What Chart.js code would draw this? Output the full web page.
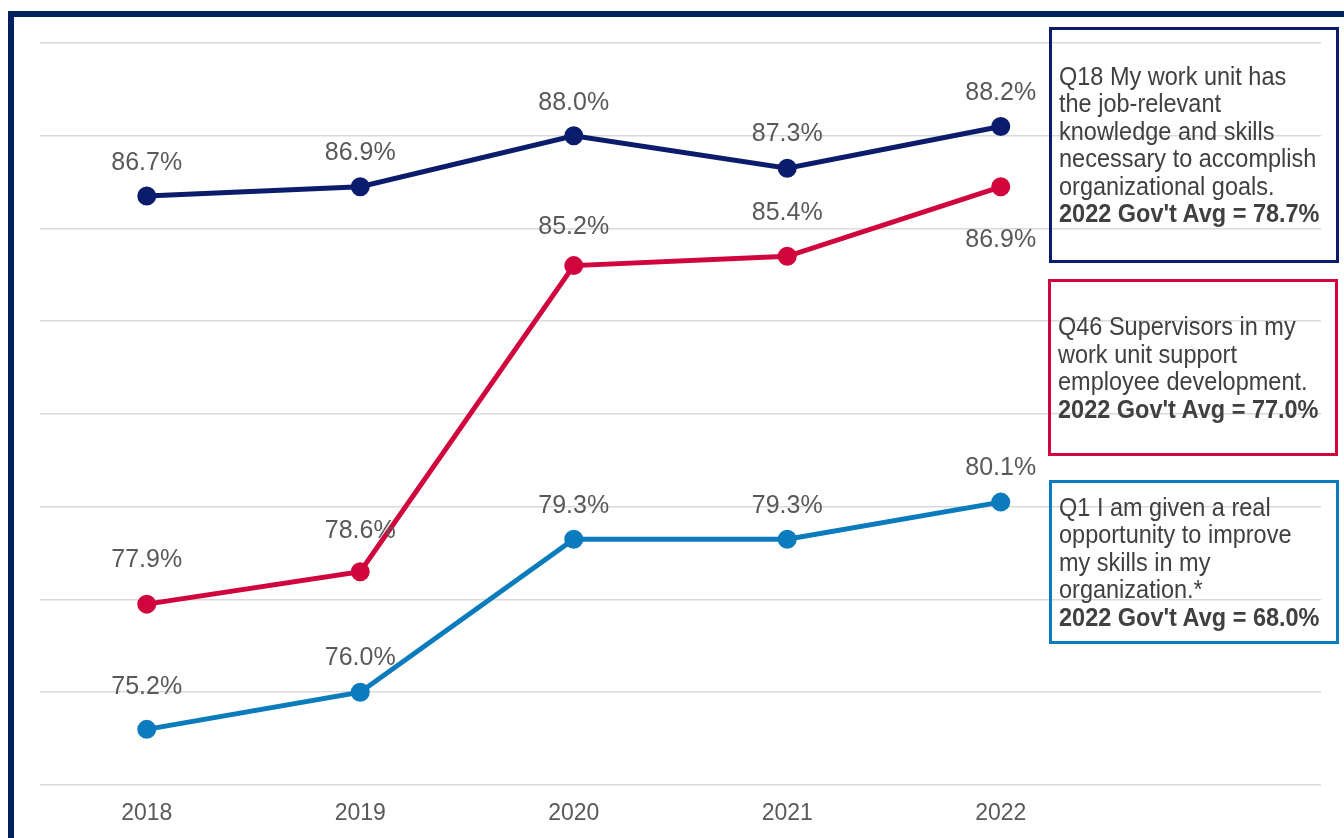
<!DOCTYPE html>
<html>
<head>
<meta charset="utf-8">
<script src="https://cdn.jsdelivr.net/npm/chart.js@4/dist/chart.umd.min.js"></script>
<style>
  html, body { margin: 0; padding: 0; background: #fff; overflow: hidden; }
  #wrap { position: relative; width: 1344px; height: 838px; }
  #frame {
    position: absolute; left: 8px; top: 11px; width: 1400px; height: 900px;
    border-top: 6px solid #002060; border-left: 6px solid #002060;
  }
  canvas { position: absolute; left: 0; top: 0; }
  .note {
    position: absolute; box-sizing: border-box; border: 3px solid;
    display: flex; align-items: center; padding-left: 7px;
    font-family: "Liberation Sans", Arial, sans-serif; font-size: 23.5px;
    color: #404040; white-space: nowrap;
  }
  /* glyphs are a bit taller than wide here, so stretch the block vertically */
  .note > div { line-height: 24.9px; transform: scaleY(1.1); }
  .note b { font-weight: bold; }
</style>
</head>
<body>
<div id="wrap">
  <div id="frame"></div>
  <canvas id="trendChart" width="1344" height="838"></canvas>
  <div class="note" style="left:1049px;top:27px;width:290px;height:236px;border-color:#0c1c6c;">
    <div>Q18 My work unit has<br>the job-relevant<br>knowledge and skills<br>necessary to accomplish<br>organizational goals.<br><b>2022 Gov't Avg = 78.7%</b></div>
  </div>
  <div class="note" style="left:1048px;top:279px;width:290px;height:177px;border-color:#d1053d;">
    <div>Q46 Supervisors in my<br>work unit support<br>employee development.<br><b>2022 Gov't Avg = 77.0%</b></div>
  </div>
  <div class="note" style="left:1049px;top:480px;width:290px;height:164px;border-color:#0a7bbd;">
    <div>Q1 I am given a real<br>opportunity to improve<br>my skills in my<br>organization.*<br><b>2022 Gov't Avg = 68.0%</b></div>
  </div>
</div>
<script>
const years = ["2018", "2019", "2020", "2021", "2022"];
const q18 = [86.7, 86.9, 88.0, 87.3, 88.2];
const q46 = [77.9, 78.6, 85.2, 85.4, 86.9];
const q1 = [75.2, 76.0, 79.3, 79.3, 80.1];
const yTicks = { min: 74, max: 90, step: 2 };

// percent labels above each point (negative offset = below)
const valueLabels = {
  id: "valueLabels",
  afterDatasetsDraw(chart) {
    const ctx = chart.ctx;
    chart.data.datasets.forEach((ds, i) => {
      chart.getDatasetMeta(i).data.forEach((pt, j) => {
        const off = ds.labelOffsets ? ds.labelOffsets[j] : 34;
        ctx.save();
        ctx.translate(pt.x, pt.y - off);
        ctx.scale(1, 1.06);
        ctx.font = "25px 'Liberation Sans', Arial, sans-serif";
        ctx.fillStyle = "#595959";
        ctx.textAlign = "center";
        ctx.textBaseline = "middle";
        ctx.fillText(ds.data[j].toFixed(1) + "%", 0, 0);
        ctx.restore();
      });
    });
  },
};

function line(data, color, offsets) {
  return {
    data: data,
    borderColor: color,
    backgroundColor: color,
    borderWidth: 5,
    pointRadius: 7,
    pointHoverRadius: 7,
    tension: 0,
    labelOffsets: offsets,
  };
}

const ctx = document.getElementById("trendChart").getContext("2d");
new Chart(ctx, {
  type: "line",
  data: {
    // one empty slot on the right leaves room for the notes
    labels: years.concat([""]),
    datasets: [
      line(q18, "#0c1c6c", [33, 34, 33, 35, 34]),
      line(q46, "#d1053d", [44, 41, 39, 44, -53]),
      line(q1, "#0a7bbd", [43, 35, 34, 34, 34]),
    ],
  },
  options: {
    responsive: false,
    animation: false,
    layout: { padding: { left: 40, right: 23, top: 43, bottom: 0 } },
    plugins: { legend: { display: false }, tooltip: { enabled: false } },
    scales: {
      x: {
        offset: true,
        grid: { display: false },
        border: { display: false },
        ticks: {
          color: "#595959",
          padding: 7,
          font: { family: "'Liberation Sans', Arial, sans-serif", size: 23 },
        },
        afterFit(scale) { scale.height = 53; },
      },
      y: {
        min: yTicks.min,
        max: yTicks.max,
        border: { display: false },
        grid: { color: "#d9d9d9", lineWidth: 1.6, drawTicks: false },
        ticks: { display: false, stepSize: yTicks.step },
        afterFit(scale) { scale.width = 0; },
      },
    },
  },
  plugins: [valueLabels],
});
</script>
</body>
</html>
